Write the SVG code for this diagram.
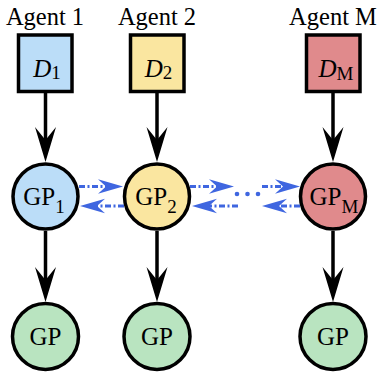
<svg xmlns="http://www.w3.org/2000/svg" width="380" height="377" viewBox="0 0 380 377">
<style>
  .lbl { font-family: "Liberation Serif", "Times New Roman", serif; fill: #000; }
  .box { stroke: #000; stroke-width: 3.5; }
  .node { stroke: #000; stroke-width: 3.5; }
  .blk { stroke: #000; stroke-width: 3.5; fill: none; }
  .blu { stroke: #3f66e0; stroke-width: 2.8; fill: none; stroke-dasharray: 6 2.5 2 2.5; }
  .c1 { fill: #bbddf8; } .c2 { fill: #fae6a0; } .cM { fill: #e08a8c; } .cG { fill: #b9e4c0; }
</style>
<defs>
  <marker id="ab" viewBox="-36 -11 37 22" refX="-22" refY="0" markerWidth="37" markerHeight="22" markerUnits="userSpaceOnUse" orient="auto">
    <path d="M0,0 L-35,-10.5 L-22,0 L-35,10.5 Z" fill="#000"/>
  </marker>
  <marker id="au" viewBox="-26 -8 27 16" refX="-17" refY="0" markerWidth="27" markerHeight="16" markerUnits="userSpaceOnUse" orient="auto">
    <path d="M0,0 L-25,-7.2 L-17,0 L-25,7.2 Z" fill="#3f66e0"/>
  </marker>
</defs>

<g id="titles" class="lbl" font-size="24.5" text-anchor="middle">
  <text x="45" y="25">Agent 1</text>
  <text x="157" y="25">Agent 2</text>
  <text x="333" y="25">Agent M</text>
</g>

<g id="connectors">
  <line class="blk" x1="45.5" y1="93" x2="45.5" y2="140" marker-end="url(#ab)"/>
  <line class="blk" x1="157" y1="93" x2="157" y2="140" marker-end="url(#ab)"/>
  <line class="blk" x1="333" y1="93" x2="333" y2="140" marker-end="url(#ab)"/>
  <line class="blk" x1="45.5" y1="231" x2="45.5" y2="280" marker-end="url(#ab)"/>
  <line class="blk" x1="157" y1="231" x2="157" y2="280" marker-end="url(#ab)"/>
  <line class="blk" x1="333" y1="231" x2="333" y2="280" marker-end="url(#ab)"/>

  <line class="blu" x1="79" y1="186.5" x2="106" y2="186.5" marker-end="url(#au)"/>
  <line class="blu" x1="124" y1="206" x2="97" y2="206" marker-end="url(#au)"/>
  <line class="blu" x1="190" y1="186.5" x2="217" y2="186.5" marker-end="url(#au)"/>
  <line class="blu" x1="238" y1="206" x2="209" y2="206" marker-end="url(#au)"/>
  <line class="blu" x1="262" y1="186.5" x2="283" y2="186.5" marker-end="url(#au)"/>
  <line class="blu" x1="300" y1="206" x2="279" y2="206" marker-end="url(#au)"/>
  <g id="ellipsis" fill="#3f66e0">
    <circle cx="237" cy="194" r="2.3"/>
    <circle cx="247.5" cy="194" r="2.3"/>
    <circle cx="258" cy="194" r="2.3"/>
  </g>
</g>

<g id="D1">
  <rect class="box c1" x="18.5" y="35" width="53.5" height="56.5"/>
  <text class="lbl" x="47" y="77" font-size="25" text-anchor="middle"><tspan font-style="italic">D</tspan><tspan font-size="19" dy="2">1</tspan></text>
</g>
<g id="D2">
  <rect class="box c2" x="130.5" y="35" width="53.5" height="56.5"/>
  <text class="lbl" x="158.5" y="77" font-size="25" text-anchor="middle"><tspan font-style="italic">D</tspan><tspan font-size="19" dy="2">2</tspan></text>
</g>
<g id="DM">
  <rect class="box cM" x="306.5" y="35" width="53.5" height="56.5"/>
  <text class="lbl" x="336" y="77" font-size="25" text-anchor="middle"><tspan font-style="italic">D</tspan><tspan font-size="19" dy="3">M</tspan></text>
</g>

<g id="GP1">
  <circle class="node c1" cx="45.5" cy="196.5" r="32.5"/>
  <text class="lbl" x="44" y="204.5" font-size="25" text-anchor="middle">GP<tspan font-size="19" dy="8.5">1</tspan></text>
</g>
<g id="GP2">
  <circle class="node c2" cx="157" cy="196.5" r="32.5"/>
  <text class="lbl" x="156" y="204.5" font-size="25" text-anchor="middle">GP<tspan font-size="19" dy="8.5">2</tspan></text>
</g>
<g id="GPM">
  <circle class="node cM" cx="333" cy="196.5" r="32.5"/>
  <text class="lbl" x="334" y="204.5" font-size="25" text-anchor="middle">GP<tspan font-size="19" dy="8.5">M</tspan></text>
</g>

<g id="GP1out">
  <circle class="node cG" cx="45.5" cy="336.5" r="33"/>
  <text class="lbl" x="45.5" y="345" font-size="25" text-anchor="middle">GP</text>
</g>
<g id="GP2out">
  <circle class="node cG" cx="157" cy="336.5" r="33"/>
  <text class="lbl" x="157" y="345" font-size="25" text-anchor="middle">GP</text>
</g>
<g id="GPMout">
  <circle class="node cG" cx="333" cy="336.5" r="33"/>
  <text class="lbl" x="333" y="345" font-size="25" text-anchor="middle">GP</text>
</g>
</svg>
